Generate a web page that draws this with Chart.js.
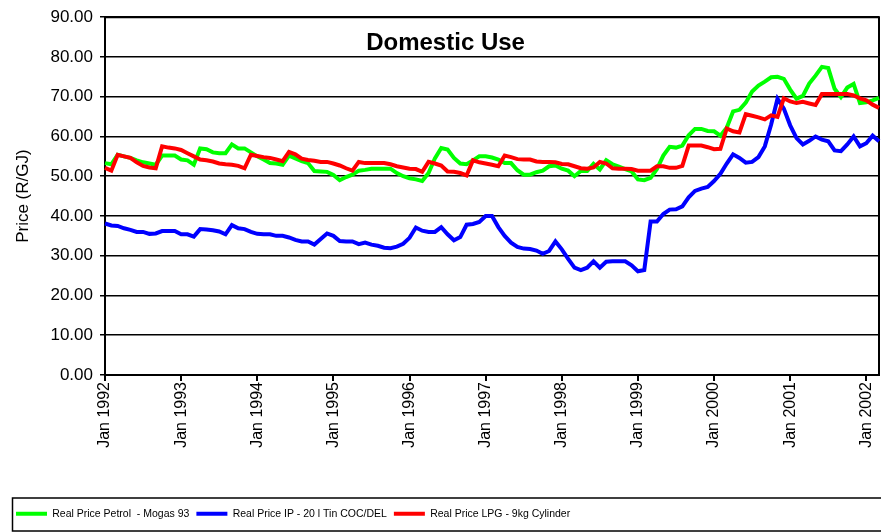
<!DOCTYPE html>
<html lang="en">
<head>
    <meta charset="UTF-8">
    <title>Domestic Use</title>
    <script src="https://cdn.jsdelivr.net/npm/chart.js@4.4.1/dist/chart.umd.min.js"></script>
    <style>
        body {
            margin: 0;
            background: #fff;
        }
        .chart-box {
            position: relative;
            width: 881px;
            height: 532px;
        }
    </style>
</head>
<body>
    <div class="chart-box">
        <canvas id="priceChart"></canvas>
    </div>

    <script>
        // months Jan 1992 .. Mar 2002
        const monthNames = ['Jan', 'Feb', 'Mar', 'Apr', 'May', 'Jun', 'Jul', 'Aug', 'Sep', 'Oct', 'Nov', 'Dec'];
        const years = [1992, 1993, 1994, 1995, 1996, 1997, 1998, 1999, 2000, 2001, 2002];
        const monthCount = 123;

        // Real Price Petrol - Mogas 93 (R/GJ)
        const petrol = [
            53.3, 53.0, 55.4, 55.0, 54.6, 54.0, 53.5, 53.2, 52.9, 55.2, 55.2, 55.2,
            54.2, 54.0, 52.9, 57.0, 56.8, 56.0, 55.8, 55.8, 58.0, 57.0, 57.0, 56.0,
            55.0, 54.2, 53.3, 53.2, 52.9, 55.2, 54.5, 53.8, 53.3, 51.3, 51.2, 51.1,
            50.3, 49.0, 49.8, 50.4, 51.4, 51.6, 51.9, 51.9, 51.9, 51.9, 50.8, 50.0,
            49.5, 49.2, 48.8, 50.8, 54.5, 57.1, 56.7, 54.6, 53.2, 53.0, 54.0, 55.0,
            55.0, 54.7, 54.2, 53.3, 53.3, 51.5, 50.4, 50.4, 51.0, 51.4, 52.5, 52.7,
            51.9, 51.4, 50.0, 51.3, 51.3, 53.1, 51.7, 54.0, 53.0, 52.4, 51.8, 51.2,
            49.2, 49.0, 49.6, 51.8, 55.2, 57.4, 57.2, 57.7, 60.3, 61.9, 61.9, 61.4,
            61.3, 60.2, 62.2, 66.3, 66.7, 68.5, 71.3, 72.8, 73.8, 74.9, 75.0, 74.5,
            71.8, 69.5, 70.2, 73.3, 75.3, 77.5, 77.2, 72.0, 69.9, 72.3, 73.2, 68.4,
            68.6, 69.1, 69.7
        ];

        // Real Price IP - 20 l Tin COC/DEL (R/GJ)
        const paraffin = [
            38.1, 37.6, 37.5, 36.9, 36.5, 36.0, 36.0, 35.5, 35.6, 36.2, 36.2, 36.2,
            35.4, 35.4, 34.8, 36.7, 36.6, 36.4, 36.1, 35.4, 37.7, 36.9, 36.7, 36.0,
            35.5, 35.4, 35.4, 35.0, 35.0, 34.6, 34.0, 33.6, 33.6, 32.8, 34.2, 35.6,
            35.0, 33.7, 33.6, 33.6, 32.9, 33.3, 32.8, 32.5, 32.0, 31.9, 32.3, 33.0,
            34.5, 37.1, 36.3, 36.0, 36.0, 37.2, 35.4, 33.9, 34.7, 37.8, 38.0, 38.5,
            40.0, 40.0, 37.2, 35.0, 33.3, 32.2, 31.8, 31.7, 31.3, 30.5, 31.2, 33.6,
            31.6, 29.2, 27.0, 26.4, 27.0, 28.6, 27.0, 28.5, 28.6, 28.6, 28.6, 27.6,
            26.1, 26.4, 38.6, 38.6, 40.5, 41.6, 41.7, 42.4, 44.7, 46.3, 46.9, 47.3,
            48.8, 50.6, 53.2, 55.5, 54.6, 53.4, 53.6, 54.8, 57.5, 63.0, 69.5, 67.0,
            62.8, 59.6, 58.0, 58.9, 60.0, 59.2, 58.8, 56.5, 56.3, 58.0, 60.0, 57.5,
            58.3, 60.2, 58.8
        ];

        // Real Price LPG - 9kg Cylinder (R/GJ)
        const lpg = [
            52.1, 51.4, 55.4, 55.0, 54.6, 53.5, 52.6, 52.2, 52.0, 57.5, 57.2, 57.0,
            56.6, 55.8, 55.0, 54.2, 54.0, 53.7, 53.2, 53.0, 52.9, 52.6, 52.0, 55.4,
            55.1, 54.8, 54.6, 54.2, 53.8, 56.1, 55.5, 54.4, 54.1, 53.9, 53.6, 53.6,
            53.2, 52.7, 52.0, 51.4, 53.6, 53.3, 53.3, 53.3, 53.3, 53.0, 52.5, 52.2,
            51.9, 51.8, 51.1, 53.6, 53.2, 52.7, 51.2, 51.1, 50.8, 50.2, 54.0, 53.5,
            53.2, 52.9, 52.5, 55.2, 54.8, 54.3, 54.2, 54.2, 53.7, 53.6, 53.6, 53.5,
            53.1, 53.0, 52.5, 52.0, 51.9, 52.2, 53.6, 53.2, 52.0, 51.9, 51.9, 51.8,
            51.4, 51.4, 51.4, 52.5, 52.5, 52.1, 52.1, 52.6, 57.7, 57.7, 57.7, 57.3,
            56.8, 56.9, 62.0, 61.3, 61.0, 65.6, 65.2, 64.8, 64.3, 65.3, 64.9, 69.6,
            68.8, 68.4, 68.7, 68.3, 67.9, 70.7, 70.7, 70.7, 70.7, 70.7, 70.3, 69.6,
            69.1, 68.0, 67.2
        ];

        const labels = [];
        for (let i = 0; i < monthCount; i++) {
            labels.push(monthNames[i % 12] + ' ' + years[Math.floor(i / 12)]);
        }

        Chart.defaults.font.family = 'Arial, "Liberation Sans", sans-serif';
        Chart.defaults.color = '#000';

        // frame of the plot, the title inside it and the box round the legend
        const decorations = {
            id: 'decorations',
            beforeDatasetsDraw(chart) {
                const { ctx, chartArea: a } = chart;
                ctx.save();
                ctx.strokeStyle = '#000';
                ctx.lineWidth = 2;
                ctx.beginPath();
                ctx.moveTo(a.left, a.top);
                ctx.lineTo(a.right, a.top);
                ctx.lineTo(a.right, a.bottom);
                ctx.stroke();
                ctx.restore();
            },
            afterDraw(chart) {
                const { ctx, chartArea: a } = chart;
                ctx.save();
                ctx.fillStyle = '#000';
                ctx.font = 'bold 24px Arial, "Liberation Sans", sans-serif';
                ctx.textAlign = 'center';
                ctx.textBaseline = 'middle';
                ctx.fillText('Domestic Use', a.left + a.width * 0.44, a.top + 26);

                ctx.strokeStyle = '#000';
                ctx.lineWidth = 1.5;
                ctx.strokeRect(12.5, chart.height - 34, chart.width, 33);
                ctx.restore();
            }
        };

        const ctx = document.getElementById('priceChart').getContext('2d');
        new Chart(ctx, {
            type: 'line',
            data: {
                labels: labels,
                datasets: [
                    {
                        label: 'Real Price Petrol  - Mogas 93',
                        data: petrol,
                        borderColor: '#00ff00',
                        backgroundColor: '#00ff00',
                        borderWidth: 4,
                        order: 3
                    },
                    {
                        label: 'Real Price IP - 20 l Tin COC/DEL',
                        data: paraffin,
                        borderColor: '#0000ff',
                        backgroundColor: '#0000ff',
                        borderWidth: 4,
                        order: 2
                    },
                    {
                        label: 'Real Price LPG - 9kg Cylinder',
                        data: lpg,
                        borderColor: '#ff0000',
                        backgroundColor: '#ff0000',
                        borderWidth: 4,
                        order: 1
                    }
                ]
            },
            options: {
                responsive: true,
                maintainAspectRatio: false,
                animation: false,
                elements: {
                    line: { tension: 0 },
                    point: { radius: 0 }
                },
                layout: {
                    padding: { left: 9, right: 2, top: 15, bottom: 3 }
                },
                plugins: {
                    tooltip: { enabled: false },
                    legend: {
                        position: 'bottom',
                        align: 'start',
                        labels: {
                            usePointStyle: true,
                            pointStyle: 'line',
                            pointStyleWidth: 31,
                            padding: 7,
                            font: { size: 10.5 },
                            sort: (a, b) => a.datasetIndex - b.datasetIndex
                        }
                    }
                },
                scales: {
                    x: {
                        afterFit: (scale) => {
                            scale.height = 126.5;
                            scale.paddingRight = 0;
                            scale.paddingLeft = 0;
                        },
                        grid: {
                            drawOnChartArea: false,
                            color: '#000',
                            lineWidth: 2,
                            tickLength: 6
                        },
                        border: { color: '#000', width: 2 },
                        ticks: {
                            autoSkip: false,
                            minRotation: 90,
                            maxRotation: 90,
                            padding: 1,
                            font: { size: 16 },
                            callback: function (value, index) {
                                return index % 12 === 0 ? labels[index] : null;
                            }
                        }
                    },
                    y: {
                        min: 0,
                        max: 90,
                        afterFit: (scale) => { scale.width = 96; },
                        title: {
                            display: true,
                            text: 'Price (R/GJ)',
                            font: { size: 17 },
                            padding: { top: 4, bottom: 0 }
                        },
                        grid: {
                            color: '#000',
                            lineWidth: 1.5,
                            tickLength: 5
                        },
                        border: { color: '#000', width: 2 },
                        ticks: {
                            stepSize: 10,
                            padding: 7,
                            font: { size: 17 },
                            callback: (value) => value.toFixed(2)
                        }
                    }
                }
            },
            plugins: [decorations]
        });
    </script>
</body>
</html>
